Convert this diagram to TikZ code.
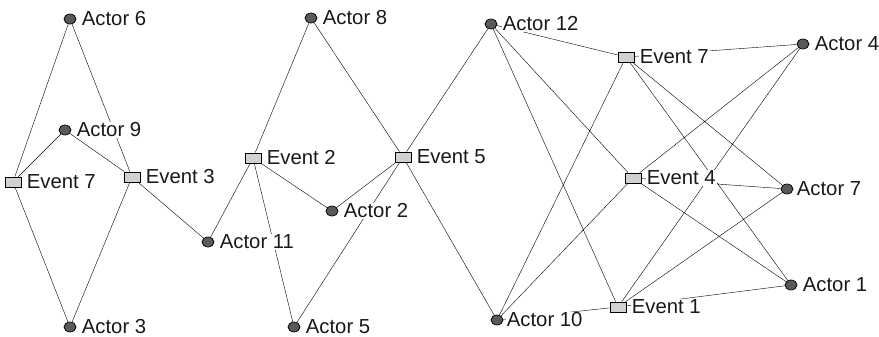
\documentclass[tikz,border=0pt]{standalone}
\usepackage{fontspec}
\setmainfont{Liberation Sans}
\usetikzlibrary{shapes.geometric,backgrounds}

\begin{document}
\begin{tikzpicture}[x=1pt, y=-1pt, line width=1.1pt,
		actor/.style={ellipse, draw, line width=0.7pt, fill=black!65, minimum width=12pt, minimum height=10pt, inner sep=0pt},
		event/.style={rectangle, draw, line width=0.7pt, fill=black!18, minimum width=16pt, minimum height=10pt, inner sep=0pt},
		tag/.style={fill=white, inner sep=1pt, text=black!90, font=\fontsize{20.3}{20.3}\selectfont},
		every label/.style={tag}, label distance=4pt]
		\useasboundingbox (0,0) rectangle (879,337);
		% actors
		\node[actor, label=right:Actor 6] (a6) at (70,19) {};
		\node[actor, label=right:Actor 9] (a9) at (65,130) {};
		\node[actor, label=right:Actor 3] (a3) at (70,327) {};
		\node[actor, label=right:Actor 11] (a11) at (208,242) {};
		\node[actor, label=right:Actor 8] (a8) at (311,18) {};
		\node[actor, label=right:Actor 2] (a2) at (332,211) {};
		\node[actor, label=right:Actor 5] (a5) at (294,327) {};
		\node[actor, label=right:Actor 12] (a12) at (491,24) {};
		\node[actor, label={[label distance=2pt]right:Actor 10}] (a10) at (497,320) {};
		\node[actor, label=right:Actor 4] (a4) at (803,44) {};
		\node[actor, label={[label distance=2pt]right:Actor 7}] (a7) at (787,189) {};
		\node[actor, label=right:Actor 1] (a1) at (791,285) {};
		% events
		\node[event, label=right:Event 7] (e7a) at (13,182) {};
		\node[event, label=right:Event 3] (e3) at (132,177) {};
		\node[event, label=right:Event 2] (e2) at (253,158) {};
		\node[event, label=right:Event 5] (e5) at (403,157) {};
		\node[event, label=right:Event 7] (e7b) at (626,57) {};
		\node[event, label=right:Event 4] (e4) at (633,178) {};
		\node[event, label=right:Event 1] (e1) at (618,307) {};
		
		\begin{scope}[on background layer]
		\draw
		(a6) -- (e7a) (a6) -- (e3)
		(a9) -- (e7a) (a9) -- (e3)
		(a3) -- (e7a) (a3) -- (e3)
		(e3) -- (a11)
		(a11) -- (e2)
		(e2) -- (a8) (e2) -- (a2) (e2) -- (a5)
		(e5) -- (a8) (e5) -- (a2) (e5) -- (a5)
		(e5) -- (a12) (e5) -- (a10)
		;
		\draw
		(a12) -- (e7b) (a12) -- (e4) (a12) -- (e1)
		(a10) -- (e7b) (a10) -- (e4) (a10) -- (e1)
		(a4) -- (e7b) (a4) -- (e4) (a4) -- (e1)
		(a7) -- (e7b) (a7) -- (e4) (a7) -- (e1)
		(a1) -- (e7b) (a1) -- (e4) (a1) -- (e1)
		;
		\end{scope}
	\end{tikzpicture}
\end{document}
